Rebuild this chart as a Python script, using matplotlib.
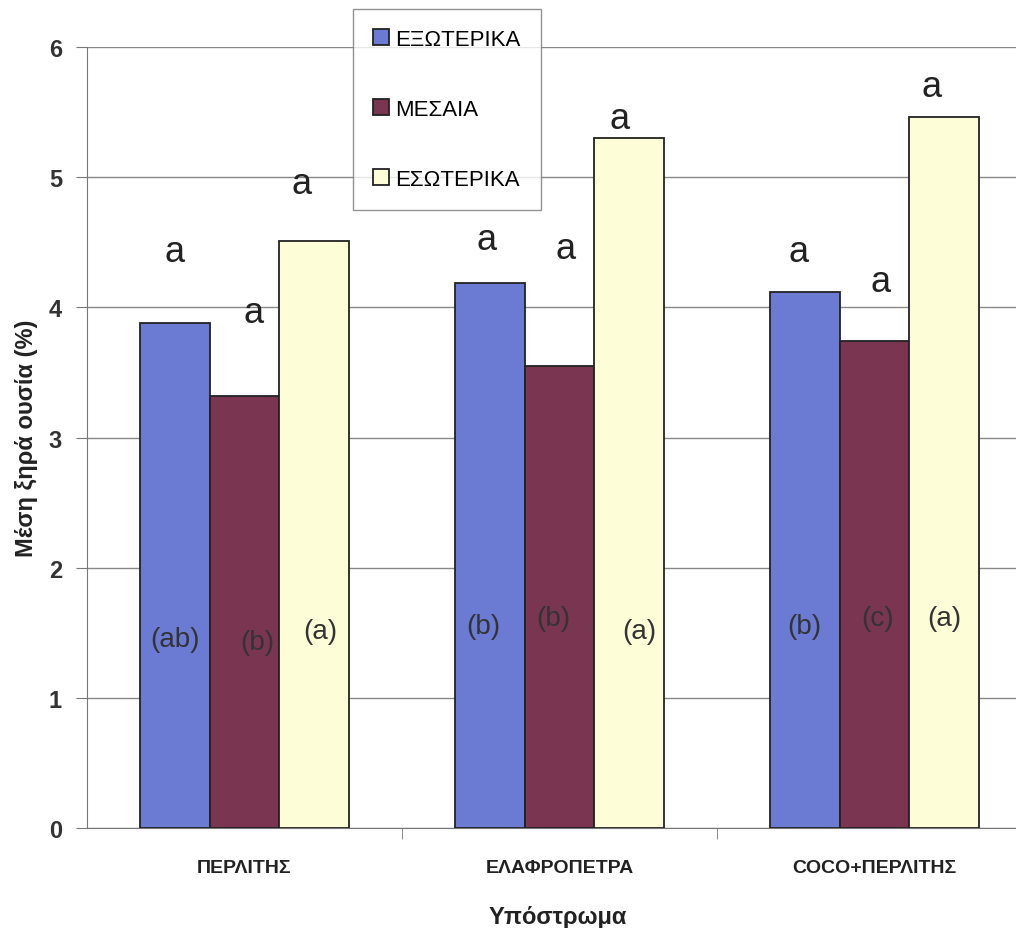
import matplotlib
matplotlib.use('Agg')
import matplotlib.pyplot as plt
import numpy as np

plt.rcParams['font.family'] = ['Liberation Sans', 'DejaVu Sans']

# data
categories = ['ΠΕΡΛΙΤΗΣ', 'ΕΛΑΦΡΟΠΕΤΡΑ', 'COCO+ΠΕΡΛΙΤΗΣ']
series_names = ['ΕΞΩΤΕΡΙΚΑ', 'ΜΕΣΑΙΑ', 'ΕΣΩΤΕΡΙΚΑ']
outer = [3.88, 4.19, 4.12]
middle = [3.32, 3.55, 3.74]
inner = [4.51, 5.30, 5.46]

# significance letters above bars and inside bars
top_letters = [['a', 'a', 'a'], ['a', 'a', 'a'], ['a', 'a', 'a']]   # [series][category]
top_letter_y = [[4.43, 4.52, 4.43], [3.96, 4.45, 4.20], [4.95, 5.45, 5.70]]
top_letter_dx = [[0.0, -0.01, -0.02], [0.03, 0.02, 0.02], [-0.04, -0.03, -0.04]]
in_letters = [['(ab)', '(b)', '(b)'], ['(b)', '(b)', '(c)'], ['(a)', '(a)', '(a)']]
in_letter_y = [[1.45, 1.55, 1.55], [1.43, 1.61, 1.61], [1.51, 1.51, 1.61]]
in_letter_dx = [[0.0, -0.02, 0.0], [0.04, -0.02, 0.01], [0.02, 0.03, 0.0]]

colors = ['#6b7bd3', '#7a3550', '#fdfdd8']

fig = plt.figure(figsize=(10.16, 9.29), dpi=100)
fig.patch.set_facecolor('white')
ax = fig.add_axes([87 / 1016, 100 / 929, 945 / 1016, 781 / 929])

x = np.arange(len(categories))
w = 0.222
values = [outer, middle, inner]
bars = []
for i, vals in enumerate(values):
    b = ax.bar(x + (i - 1) * w, vals, width=w, color=colors[i],
               edgecolor='#222222', linewidth=1.3, label=series_names[i], zorder=3)
    bars.append(b)
    for j in range(len(categories)):
        ax.text(x[j] + (i - 1) * w + top_letter_dx[i][j], top_letter_y[i][j], top_letters[i][j],
                ha='center', va='center', fontsize=26, color='#222222', zorder=4)
        ax.text(x[j] + (i - 1) * w + in_letter_dx[i][j], in_letter_y[i][j], in_letters[i][j],
                ha='center', va='center', fontsize=20, color='#333333', zorder=4)

ax.set_xlim(-0.5, 2.5)
ax.set_ylim(0, 6)
ax.set_yticks(range(0, 7))
ax.yaxis.grid(True, color='#888888', linewidth=1.0, zorder=0)
ax.set_axisbelow(True)

ax.set_xticks(x)
ax.set_xticklabels(categories, fontsize=14, fontweight='bold', color='#222222')
ax.set_xticks([0.5, 1.5], minor=True)
ax.tick_params(axis='x', which='major', length=0, pad=22)
ax.tick_params(axis='x', which='minor', length=8, direction='out', color='#777777')
ax.tick_params(axis='y', length=8, direction='out', color='#777777',
               labelsize=17, labelcolor='#333333', pad=10)
for lab in ax.get_yticklabels():
    lab.set_fontweight('bold')

for s in ['top', 'right']:
    ax.spines[s].set_visible(False)
ax.spines['left'].set_color('#777777')
ax.spines['bottom'].set_color('#777777')

ax.set_ylabel('Μέση ξηρά ουσία (%)', fontsize=17, fontweight='bold',
              color='#222222', labelpad=8)
ax.set_xlabel('Υπόστρωμα', fontsize=17, fontweight='heavy', color='#222222')
ax.xaxis.set_label_coords(0.4985, -0.098)

leg = fig.legend(handles=bars, labels=series_names, loc='upper left',
                 bbox_to_anchor=(353 / 1016, 1 - 10 / 929), fontsize=16,
                 frameon=True, fancybox=False, edgecolor='#777777',
                 handlelength=0.7, handleheight=0.7, handletextpad=0.3,
                 labelspacing=2.2, borderpad=0.9, borderaxespad=0)
leg.get_frame().set_linewidth(1.0)

fig.savefig('out.png', dpi=100, facecolor='white')
